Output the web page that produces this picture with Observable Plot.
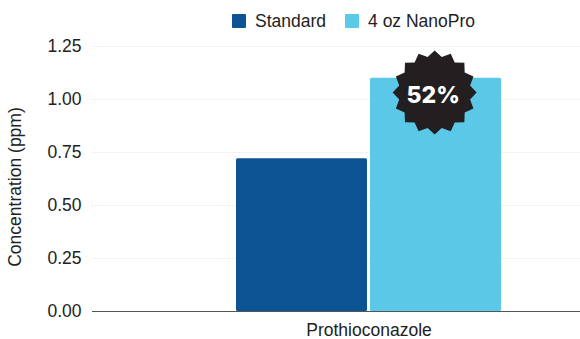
<!DOCTYPE html>
<html><head><meta charset="utf-8">
<script src="https://cdn.jsdelivr.net/npm/d3@7"></script>
<script src="https://cdn.jsdelivr.net/npm/@observablehq/plot@0.6"></script>
<style>
html,body{margin:0;padding:0;background:#fff;}
body{width:580px;height:339px;overflow:hidden;font-family:"Liberation Sans",sans-serif;color:#222;}
#legend{height:36px;box-sizing:border-box;padding:5px 0 0 232px;display:flex;align-items:center;font-size:17.5px;line-height:18px;}
#legend .sw{width:14px;height:14px;margin-right:9px;border-radius:1px;}
#legend .it{display:flex;align-items:center;margin-right:19px;white-space:nowrap;}
svg{display:block;}
</style></head>
<body>
<div id="legend"></div>
<div id="chart"></div>
<script>
const groups = ["Prothioconazole"];
const series = ["Standard", "4 oz NanoPro"];
const values = [0.72, 1.10];
const colors = ["#0c5394", "#5bc8e8"];
const yTicks = [0, 0.25, 0.5, 0.75, 1, 1.25];
const yTitle = ["Concentration (ppm)"];
const badgeLabel = ["52%"];
const badgeX = [1.49];
const badgeY = [1.033];

const rows = series.map((s, i) => ({series: s, slot: i, value: values[i]}));
const badge = badgeLabel.map((t, i) => ({label: t, x: badgeX[i], y: badgeY[i]}));

document.getElementById("legend").innerHTML = series.map((s, i) =>
  `<div class="it"><div class="sw" style="background:${colors[i]}"></div><span>${s}</span></div>`).join("");

const burst = {
  draw(context, size) {
    const R = Math.sqrt(size / Math.PI), r = R * 0.86, n = 16;
    for (let i = 0; i < 2 * n; i++) {
      const a = Math.PI * i / n - Math.PI / 2, q = i % 2 ? r : R;
      const px = q * Math.cos(a), py = q * Math.sin(a);
      if (i) context.lineTo(px, py); else context.moveTo(px, py);
    }
    context.closePath();
  }
};

const chart = Plot.plot({
  width: 580, height: 303,
  marginLeft: 92, marginRight: 0, marginTop: 10, marginBottom: 28,
  style: {fontFamily: "'Liberation Sans', sans-serif", fontSize: "17.5px", color: "#222", background: "#fff"},
  x: {domain: [0, series.length], range: [234.5, 502.5]},
  y: {domain: [0, 1.25]},
  color: {domain: series, range: colors},
  marks: [
    Plot.ruleY(yTicks.filter(d => d > 0), {stroke: "#f3f3f3", strokeWidth: 1}),
    Plot.axisY({anchor: "left", ticks: yTicks, tickFormat: d3.format(".2f"), tickSize: 0, tickPadding: 11, label: null}),
    Plot.text(yTitle, {frameAnchor: "left", rotate: -90, dx: -77, dy: 8, textAnchor: "middle", fontSize: 17.5, fill: "#222"}),
    Plot.axisX({ticks: [series.length / 2], tickFormat: () => groups[0], tickSize: 0, tickPadding: 12, label: null}),
    Plot.rectY(rows, {x1: "slot", x2: d => d.slot + 1, y: "value", fill: "series", inset: 1.5, insetBottom: 0, insetTop: 0, rx: 1.5}),
    Plot.ruleY([0], {stroke: "#555", strokeWidth: 1}),
    Plot.dot(badge, {x: "x", y: "y", symbol: burst, r: 42, fill: "#231f20"}),
    Plot.text(badge, {x: "x", y: "y", text: "label", fill: "#fff", dy: 3, dx: -1.5,
      fontFamily: "Inter, sans-serif", fontWeight: 800, fontSize: 23})
  ]
});
document.getElementById("chart").appendChild(chart);
</script>
</body></html>
